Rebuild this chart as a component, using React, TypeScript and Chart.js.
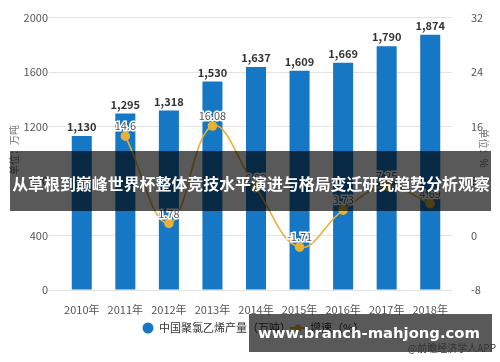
import React, { useEffect, useRef } from "react";
import { Chart, registerables } from "chart.js";
Chart.register(...registerables);

const years = ["2010年", "2011年", "2012年", "2013年", "2014年", "2015年", "2016年", "2017年", "2018年"];
const output = [1130, 1295, 1318, 1530, 1637, 1609, 1669, 1790, 1874];
const growth: (number | null)[] = [null, 14.6, 1.78, 16.08, 6.99, -1.71, 3.73, 7.25, 4.69];
const growthLabels = ["", "14.6", "1.78", "16.08", "6.99", "-1.71", "3.73", "7.25", "4.69"];
const leftAxis = { min: 0, max: 2000, step: 400 };
const rightAxis = { min: -8, max: 32, step: 8 };
const seriesNames = ["中国聚氯乙烯产量（万吨）", "增速（%）"];
const leftUnit = "单位：万吨";
const rightUnit = "单位：%";
const bannerText = "从草根到巅峰世界杯整体竞技水平演进与格局变迁研究趋势分析观察";
const watermarkText = "www.branch-mahjong.com";
const sourceText = "@前瞻经济学人APP";

const BAR = "#1677c4";
const GOLD = "#e6b136";
const FONT = "'Noto Sans CJK SC', 'Noto Sans', sans-serif";

function fitFont(ctx: CanvasRenderingContext2D, text: string, weight: string, family: string, width: number) {
  ctx.font = `${weight} 20px ${family}`;
  const w = ctx.measureText(text).width;
  const size = (20 * width) / w;
  ctx.font = `${weight} ${size}px ${family}`;
}

const overlayPlugin = {
  id: "overlay",
  afterDatasetsDraw(chart: any) {
    const ctx = chart.ctx as CanvasRenderingContext2D;
    const barMeta = chart.getDatasetMeta(1);
    ctx.save();
    ctx.font = `bold 11px ${FONT}`;
    ctx.fillStyle = "#333";
    ctx.textAlign = "center";
    ctx.textBaseline = "middle";
    barMeta.data.forEach((el: any, i: number) => {
      ctx.fillText(output[i].toLocaleString("en-US"), el.x, el.y - 9);
    });
    const lineMeta = chart.getDatasetMeta(0);
    ctx.font = `11px ${FONT}`;
    ctx.lineWidth = 3;
    ctx.strokeStyle = "#fff";
    ctx.fillStyle = "#555";
    lineMeta.data.forEach((el: any, i: number) => {
      if (growth[i] == null) return;
      ctx.strokeText(growthLabels[i], el.x, el.y - 10);
      ctx.fillText(growthLabels[i], el.x, el.y - 10);
    });
    ctx.restore();
  },
  afterDraw(chart: any) {
    const ctx = chart.ctx as CanvasRenderingContext2D;
    ctx.save();
    ctx.font = `10px ${FONT}`;
    ctx.fillStyle = "#777";
    ctx.textAlign = "center";
    ctx.textBaseline = "middle";
    ctx.save();
    ctx.translate(14, 150);
    ctx.rotate(-Math.PI / 2);
    ctx.fillText(leftUnit, 0, 0);
    ctx.restore();
    ctx.save();
    ctx.translate(484, 148);
    ctx.rotate(Math.PI / 2);
    ctx.fillText(rightUnit, 0, 0);
    ctx.restore();

    ctx.fillStyle = BAR;
    ctx.beginPath();
    ctx.arc(148, 328, 5.5, 0, Math.PI * 2);
    ctx.fill();
    ctx.font = `11px ${FONT}`;
    ctx.fillStyle = "#333";
    ctx.textAlign = "left";
    ctx.fillText(seriesNames[0], 159, 328);
    ctx.strokeStyle = GOLD;
    ctx.lineWidth = 2;
    ctx.beginPath();
    ctx.moveTo(290, 328);
    ctx.lineTo(306, 328);
    ctx.stroke();
    ctx.fillStyle = GOLD;
    ctx.beginPath();
    ctx.arc(298, 328, 3.5, 0, Math.PI * 2);
    ctx.fill();
    ctx.fillStyle = "#333";
    ctx.fillText(seriesNames[1], 310, 328);

    ctx.fillStyle = "rgba(0,0,0,0.65)";
    ctx.fillRect(10, 151, 481, 60);
    ctx.fillStyle = "#fff";
    ctx.textAlign = "center";
    fitFont(ctx, bannerText, "bold", FONT, 478);
    ctx.fillText(bannerText, 251, 184);

    ctx.fillStyle = "rgba(0,0,0,0.65)";
    ctx.fillRect(249, 314, 243, 38);
    ctx.fillStyle = "#fff";
    fitFont(ctx, watermarkText, "bold", "'DejaVu Sans', sans-serif", 222);
    ctx.fillText(watermarkText, 369, 334);

    ctx.font = `10px ${FONT}`;
    ctx.fillStyle = "#333";
    ctx.textAlign = "right";
    ctx.fillText(sourceText, 496, 348);
    ctx.restore();
  },
};

export default function App() {
  const ref = useRef<HTMLCanvasElement | null>(null);
  useEffect(() => {
    if (!ref.current) return;
    const chart = new Chart(ref.current, {
      type: "bar",
      data: {
        labels: years,
        datasets: [
          {
            type: "line",
            label: seriesNames[1],
            data: growth,
            yAxisID: "y1",
            borderColor: GOLD,
            backgroundColor: GOLD,
            borderWidth: 1.6,
            pointRadius: 4,
            pointBackgroundColor: GOLD,
            pointBorderColor: GOLD,
            tension: 0.4,
            order: 0,
          } as any,
          {
            type: "bar",
            label: seriesNames[0],
            data: output,
            yAxisID: "y",
            backgroundColor: BAR,
            categoryPercentage: 0.8,
            barPercentage: 0.575,
            order: 1,
          },
        ],
      },
      options: {
        responsive: false,
        animation: false,
        layout: { padding: { top: 16, left: 0, right: 0, bottom: 0 } },
        plugins: { legend: { display: false }, tooltip: { enabled: false } },
        scales: {
          x: {
            grid: { display: false },
            border: { display: false },
            ticks: { color: "#555", font: { size: 11, family: FONT }, padding: 5 },
            afterFit(s: any) {
              s.height = 72;
            },
          },
          y: {
            position: "left",
            min: leftAxis.min,
            max: leftAxis.max,
            ticks: {
              stepSize: leftAxis.step,
              color: "#555",
              font: { size: 11, family: FONT },
              padding: 1,
              callback: (v: any) => String(v),
            },
            grid: { color: "#e3e3e3", tickLength: 11, lineWidth: 1 },
            border: { display: false },
            afterFit(s: any) {
              s.width = 60;
            },
          },
          y1: {
            position: "right",
            min: rightAxis.min,
            max: rightAxis.max,
            ticks: {
              stepSize: rightAxis.step,
              color: "#555",
              font: { size: 11, family: FONT },
              padding: 11,
              callback: (v: any) => String(v),
            },
            grid: { display: false },
            border: { display: false },
            afterFit(s: any) {
              s.width = 48;
            },
          },
        },
      } as any,
      plugins: [overlayPlugin],
    });
    return () => chart.destroy();
  }, []);
  return (
    <div style={{ position: "absolute", left: 0, top: 0, width: 500, height: 362, background: "#fff" }}>
      <canvas ref={ref} width={500} height={362} style={{ width: 500, height: 362 }} />
    </div>
  );
}
